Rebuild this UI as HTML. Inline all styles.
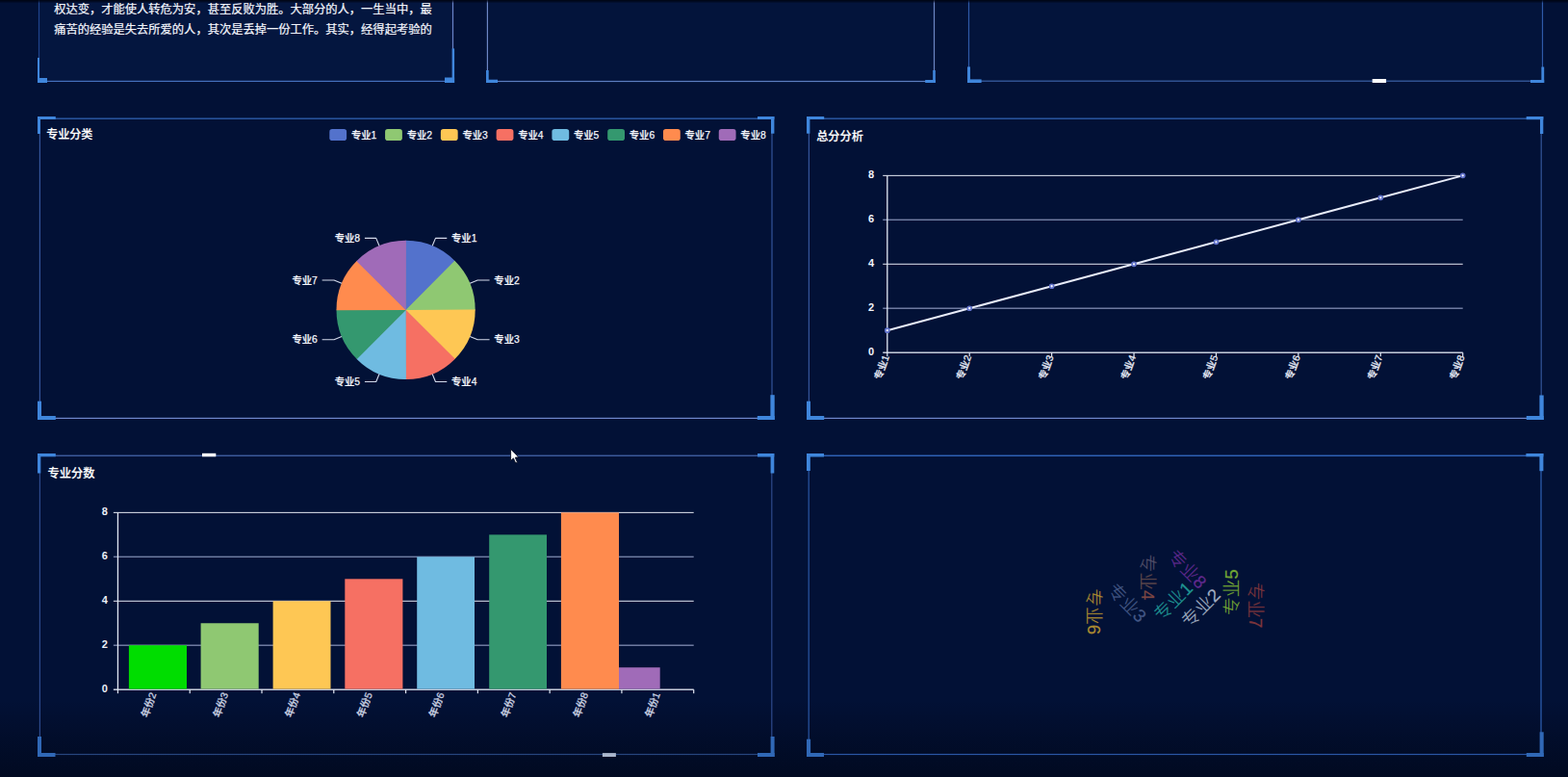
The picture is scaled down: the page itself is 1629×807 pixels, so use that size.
<!DOCTYPE html>
<html lang="zh-CN">
<head>
<meta charset="utf-8">
<title>数据大屏</title>
<style>
html,body{margin:0;padding:0;}
body{width:1629px;height:807px;overflow:hidden;position:relative;background:#021136;font-family:"Liberation Sans",sans-serif;}
#stage{position:absolute;left:0;top:0;width:1629px;height:807px;overflow:hidden;
 background:linear-gradient(to bottom,rgba(0,3,14,0) 0,rgba(0,3,14,0) 726px,rgba(0,3,14,.3) 770px,rgba(0,3,14,.52) 807px),#021136;}
#stage svg{position:absolute;left:0;top:0;display:block;}
#stage svg text{font-family:"Liberation Sans","Noto Sans CJK SC",sans-serif;}
#txt span{position:absolute;white-space:nowrap;color:transparent;line-height:1.2;font-family:"Liberation Sans",sans-serif;}
</style>
</head>
<body>
<div id="stage">
<svg width="1629" height="807" viewBox="0 0 1629 807" role="img" aria-label="数据大屏">
<rect x="40.5" y="-5" width="430" height="89.4" fill="#04163f"/><rect x="40" y="83.8" width="431" height="1.2" fill="#4570bc"/><rect x="39.9" y="-5" width="1.2" height="89.4" fill="#1f438c"/><rect x="469.9" y="-5" width="1.2" height="89.4" fill="#6a84c8"/><rect x="39" y="60" width="2" height="26" fill="#3f86dc"/><rect x="39" y="81" width="10" height="5" fill="#3f86dc"/><rect x="469.7" y="50.4" width="2.4" height="35.6" fill="#3f86dc"/><rect x="462" y="80.5" width="10.1" height="5.5" fill="#3f86dc"/><rect x="506.4" y="-5" width="464.1" height="89.5" fill="#03143b"/><rect x="505.9" y="83.9" width="465.1" height="1.2" fill="#5c7dc0"/><rect x="505.8" y="-5" width="1.2" height="89.5" fill="#6c86c4"/><rect x="969.9" y="-5" width="1.2" height="89.5" fill="#6c86c4"/><rect x="505" y="73" width="2.7" height="13" fill="#3f86dc"/><rect x="505" y="82.7" width="12" height="3.3" fill="#3f86dc"/><rect x="969.2" y="73" width="2.6" height="13" fill="#3f86dc"/><rect x="961.2" y="83" width="10.6" height="3" fill="#3f86dc"/><rect x="1006.5" y="-5" width="596" height="89.2" fill="#03143b"/><rect x="1006" y="83.6" width="597" height="1.2" fill="#3c62a8"/><rect x="1005.9" y="-5" width="1.2" height="89.2" fill="#2f5aa8"/><rect x="1601.9" y="-5" width="1.2" height="89.2" fill="#2f5aa8"/><rect x="1005" y="69.4" width="3" height="16.6" fill="#3f86dc"/><rect x="1005" y="82.4" width="14.6" height="3.6" fill="#3f86dc"/><rect x="1601.4" y="69.5" width="2.8" height="16.5" fill="#3f86dc"/><rect x="1590" y="83" width="14.2" height="3" fill="#3f86dc"/><rect x="1425.7" y="82" width="14.4" height="4" fill="#ffffff"/>
<text x="56.2" y="13.56" font-size="12.27" fill="#f2f4fb" stroke="#f2f4fb" stroke-width="0.22">权达变，才能使人转危为安，甚至反败为胜。大部分的人，一生当中，最</text>
<text x="56.2" y="34.76" font-size="12.27" fill="#f2f4fb" stroke="#f2f4fb" stroke-width="0.22">痛苦的经验是失去所爱的人，其次是丢掉一份工作。其实，经得起考验的</text>
<rect x="40.9" y="122.45" width="761.6" height="1.5" fill="#2b57a0"/><rect x="40.9" y="433.8" width="761.6" height="1.2" fill="#7088cc"/><rect x="40.8" y="123.2" width="1.2" height="311.2" fill="#34559a"/><rect x="801.4" y="123.2" width="1.2" height="311.2" fill="#34559a"/><rect x="39" y="121" width="18.8" height="3" fill="#3f86dc"/><rect x="39" y="121" width="3" height="18" fill="#3f86dc"/><rect x="787" y="121" width="17.4" height="3" fill="#3f86dc"/><rect x="801" y="121" width="3.4" height="17.7" fill="#3f86dc"/><rect x="39" y="416.7" width="4" height="19.3" fill="#3f86dc"/><rect x="39" y="432" width="18.8" height="4" fill="#3f86dc"/><rect x="800.4" y="410.2" width="4.3" height="25.8" fill="#3f86dc"/><rect x="786.8" y="432" width="17.9" height="4" fill="#3f86dc"/>
<text x="48.2" y="144.18" font-size="12.05" font-weight="500" fill="#ffffff" stroke="#ffffff" stroke-width="0.2">专业分类</text>
<rect x="342.3" y="134.1" width="17.8" height="12" rx="2.8" fill="#5372cc"/><text x="364.9" y="143.51" font-size="10.3" font-weight="500" fill="#f4f6fc" stroke="#f4f6fc" stroke-width="0.25">专业1</text><rect x="400.08" y="134.1" width="17.8" height="12" rx="2.8" fill="#8fc872"/><text x="422.68" y="143.51" font-size="10.3" font-weight="500" fill="#f4f6fc" stroke="#f4f6fc" stroke-width="0.25">专业2</text><rect x="457.86" y="134.1" width="17.8" height="12" rx="2.8" fill="#fec754"/><text x="480.46" y="143.51" font-size="10.3" font-weight="500" fill="#f4f6fc" stroke="#f4f6fc" stroke-width="0.25">专业3</text><rect x="515.64" y="134.1" width="17.8" height="12" rx="2.8" fill="#f67063"/><text x="538.24" y="143.51" font-size="10.3" font-weight="500" fill="#f4f6fc" stroke="#f4f6fc" stroke-width="0.25">专业4</text><rect x="573.42" y="134.1" width="17.8" height="12" rx="2.8" fill="#6fbbe1"/><text x="596.02" y="143.51" font-size="10.3" font-weight="500" fill="#f4f6fc" stroke="#f4f6fc" stroke-width="0.25">专业5</text><rect x="631.2" y="134.1" width="17.8" height="12" rx="2.8" fill="#34986f"/><text x="653.8" y="143.51" font-size="10.3" font-weight="500" fill="#f4f6fc" stroke="#f4f6fc" stroke-width="0.25">专业6</text><rect x="688.98" y="134.1" width="17.8" height="12" rx="2.8" fill="#ff8b4e"/><text x="711.58" y="143.51" font-size="10.3" font-weight="500" fill="#f4f6fc" stroke="#f4f6fc" stroke-width="0.25">专业7</text><rect x="746.76" y="134.1" width="17.8" height="12" rx="2.8" fill="#a06bb8"/><text x="769.36" y="143.51" font-size="10.3" font-weight="500" fill="#f4f6fc" stroke="#f4f6fc" stroke-width="0.25">专业8</text>
<circle cx="421.6" cy="321.9" r="71.5" fill="#9a8a80"/><path d="M421.6 321.9L421.29 249.8A72.1 72.1 0 0 1 472.8 271.14Z" fill="#5372cc"/><path d="M421.6 321.9L472.36 270.7A72.1 72.1 0 0 1 493.7 322.21Z" fill="#8fc872"/><path d="M421.6 321.9L493.7 321.59A72.1 72.1 0 0 1 472.36 373.1Z" fill="#fec754"/><path d="M421.6 321.9L472.8 372.66A72.1 72.1 0 0 1 421.29 394Z" fill="#f67063"/><path d="M421.6 321.9L421.91 394A72.1 72.1 0 0 1 370.4 372.66Z" fill="#6fbbe1"/><path d="M421.6 321.9L370.84 373.1A72.1 72.1 0 0 1 349.5 321.59Z" fill="#34986f"/><path d="M421.6 321.9L349.5 322.21A72.1 72.1 0 0 1 370.84 270.7Z" fill="#ff8b4e"/><path d="M421.6 321.9L370.4 271.14A72.1 72.1 0 0 1 421.91 249.8Z" fill="#a06bb8"/>
<path d="M449.19 255.29L452.48 247.34L464.28 247.34" fill="none" stroke="#d3d9ea" stroke-width="1.1" stroke-linejoin="round"/><text x="469.08" y="250.85" font-size="10.3" font-weight="500" fill="#f4f6fc" stroke="#f4f6fc" stroke-width="0.25">专业1</text>
<path d="M488.21 294.31L496.16 291.02L508.56 291.02" fill="none" stroke="#d3d9ea" stroke-width="1.1" stroke-linejoin="round"/><text x="513.36" y="294.53" font-size="10.3" font-weight="500" fill="#f4f6fc" stroke="#f4f6fc" stroke-width="0.25">专业2</text>
<path d="M488.21 349.49L496.16 352.78L508.56 352.78" fill="none" stroke="#d3d9ea" stroke-width="1.1" stroke-linejoin="round"/><text x="513.36" y="356.29" font-size="10.3" font-weight="500" fill="#f4f6fc" stroke="#f4f6fc" stroke-width="0.25">专业3</text>
<path d="M449.19 388.51L452.48 396.46L464.28 396.46" fill="none" stroke="#d3d9ea" stroke-width="1.1" stroke-linejoin="round"/><text x="469.08" y="399.97" font-size="10.3" font-weight="500" fill="#f4f6fc" stroke="#f4f6fc" stroke-width="0.25">专业4</text>
<path d="M394.01 388.51L390.72 396.46L378.92 396.46" fill="none" stroke="#d3d9ea" stroke-width="1.1" stroke-linejoin="round"/><text x="374.12" y="399.97" text-anchor="end" font-size="10.3" font-weight="500" fill="#f4f6fc" stroke="#f4f6fc" stroke-width="0.25">专业5</text>
<path d="M354.99 349.49L347.04 352.78L334.64 352.78" fill="none" stroke="#d3d9ea" stroke-width="1.1" stroke-linejoin="round"/><text x="329.84" y="356.29" text-anchor="end" font-size="10.3" font-weight="500" fill="#f4f6fc" stroke="#f4f6fc" stroke-width="0.25">专业6</text>
<path d="M354.99 294.31L347.04 291.02L334.64 291.02" fill="none" stroke="#d3d9ea" stroke-width="1.1" stroke-linejoin="round"/><text x="329.84" y="294.53" text-anchor="end" font-size="10.3" font-weight="500" fill="#f4f6fc" stroke="#f4f6fc" stroke-width="0.25">专业7</text>
<path d="M394.01 255.29L390.72 247.34L378.92 247.34" fill="none" stroke="#d3d9ea" stroke-width="1.1" stroke-linejoin="round"/><text x="374.12" y="250.85" text-anchor="end" font-size="10.3" font-weight="500" fill="#f4f6fc" stroke="#f4f6fc" stroke-width="0.25">专业8</text>
<rect x="839.9" y="122.45" width="761.8" height="1.5" fill="#2b57a0"/><rect x="839.9" y="433.8" width="761.8" height="1.2" fill="#7088cc"/><rect x="839.8" y="123.2" width="1.2" height="311.2" fill="#34559a"/><rect x="1600.6" y="123.2" width="1.2" height="311.2" fill="#34559a"/><rect x="838" y="121" width="18.2" height="3" fill="#3f86dc"/><rect x="838" y="121" width="3.4" height="17.7" fill="#3f86dc"/><rect x="1585.7" y="121" width="17.6" height="3.2" fill="#3f86dc"/><rect x="1600" y="121" width="3.3" height="18" fill="#3f86dc"/><rect x="838" y="416.7" width="4" height="19.3" fill="#3f86dc"/><rect x="838" y="432" width="18.2" height="4" fill="#3f86dc"/><rect x="1599.4" y="410.5" width="4.3" height="25.5" fill="#3f86dc"/><rect x="1585.8" y="432" width="17.9" height="4" fill="#3f86dc"/>
<text x="848.2" y="145.64" font-size="12.2" font-weight="500" fill="#ffffff" stroke="#ffffff" stroke-width="0.2">总分分析</text>
<rect x="917.2" y="319.51" width="602.5" height="1.45" fill="#727ea3"/><rect x="917.2" y="273.78" width="602.5" height="1" fill="#e6e9f4"/><rect x="917.2" y="227.59" width="602.5" height="1.45" fill="#727ea3"/><rect x="917.2" y="181.86" width="602.5" height="1" fill="#e6e9f4"/><rect x="917.2" y="365.55" width="602.5" height="1.3" fill="#e4e8f4"/><rect x="921.15" y="182.36" width="1.3" height="184.44" fill="#e4e8f4"/><rect x="921.2" y="366.2" width="1.2" height="4" fill="#e4e8f4"/><rect x="1006.61" y="366.2" width="1.2" height="4" fill="#e4e8f4"/><rect x="1092.03" y="366.2" width="1.2" height="4" fill="#e4e8f4"/><rect x="1177.44" y="366.2" width="1.2" height="4" fill="#e4e8f4"/><rect x="1262.86" y="366.2" width="1.2" height="4" fill="#e4e8f4"/><rect x="1348.27" y="366.2" width="1.2" height="4" fill="#e4e8f4"/><rect x="1433.69" y="366.2" width="1.2" height="4" fill="#e4e8f4"/><rect x="1519.1" y="366.2" width="1.2" height="4" fill="#e4e8f4"/>
<text x="908.1" y="368.69" text-anchor="end" font-size="11" font-weight="bold" fill="#f2f4fb">0</text><text x="908.1" y="322.73" text-anchor="end" font-size="11" font-weight="bold" fill="#f2f4fb">2</text><text x="908.1" y="276.77" text-anchor="end" font-size="11" font-weight="bold" fill="#f2f4fb">4</text><text x="908.1" y="230.81" text-anchor="end" font-size="11" font-weight="bold" fill="#f2f4fb">6</text><text x="908.1" y="184.85" text-anchor="end" font-size="11" font-weight="bold" fill="#f2f4fb">8</text>
<polyline points="921.8,343.22 1007.21,320.24 1092.63,297.26 1178.04,274.28 1263.46,251.3 1348.87,228.32 1434.29,205.34 1519.7,182.36" fill="none" stroke="#e8ecf9" stroke-width="2" stroke-linejoin="round"/><circle cx="921.8" cy="343.22" r="2" fill="#f6f7ff" stroke="#6172ca" stroke-width="1.7"/><circle cx="1007.21" cy="320.24" r="2" fill="#f6f7ff" stroke="#6172ca" stroke-width="1.7"/><circle cx="1092.63" cy="297.26" r="2" fill="#f6f7ff" stroke="#6172ca" stroke-width="1.7"/><circle cx="1178.04" cy="274.28" r="2" fill="#f6f7ff" stroke="#6172ca" stroke-width="1.7"/><circle cx="1263.46" cy="251.3" r="2" fill="#f6f7ff" stroke="#6172ca" stroke-width="1.7"/><circle cx="1348.87" cy="228.32" r="2" fill="#f6f7ff" stroke="#6172ca" stroke-width="1.7"/><circle cx="1434.29" cy="205.34" r="2" fill="#f6f7ff" stroke="#6172ca" stroke-width="1.7"/><circle cx="1519.7" cy="182.36" r="2" fill="#f6f7ff" stroke="#6172ca" stroke-width="1.7"/>
<text transform="translate(920.2 369.2) rotate(-70)" x="0" y="3.88" text-anchor="end" font-size="10.2" font-weight="500" fill="#e4e8f4" stroke="#e4e8f4" stroke-width="0.3">专业1</text>
<text transform="translate(1005.61 369.2) rotate(-70)" x="0" y="3.88" text-anchor="end" font-size="10.2" font-weight="500" fill="#e4e8f4" stroke="#e4e8f4" stroke-width="0.3">专业2</text>
<text transform="translate(1091.03 369.2) rotate(-70)" x="0" y="3.88" text-anchor="end" font-size="10.2" font-weight="500" fill="#e4e8f4" stroke="#e4e8f4" stroke-width="0.3">专业3</text>
<text transform="translate(1176.44 369.2) rotate(-70)" x="0" y="3.88" text-anchor="end" font-size="10.2" font-weight="500" fill="#e4e8f4" stroke="#e4e8f4" stroke-width="0.3">专业4</text>
<text transform="translate(1261.86 369.2) rotate(-70)" x="0" y="3.88" text-anchor="end" font-size="10.2" font-weight="500" fill="#e4e8f4" stroke="#e4e8f4" stroke-width="0.3">专业5</text>
<text transform="translate(1347.27 369.2) rotate(-70)" x="0" y="3.88" text-anchor="end" font-size="10.2" font-weight="500" fill="#e4e8f4" stroke="#e4e8f4" stroke-width="0.3">专业6</text>
<text transform="translate(1432.69 369.2) rotate(-70)" x="0" y="3.88" text-anchor="end" font-size="10.2" font-weight="500" fill="#e4e8f4" stroke="#e4e8f4" stroke-width="0.3">专业7</text>
<text transform="translate(1518.1 369.2) rotate(-70)" x="0" y="3.88" text-anchor="end" font-size="10.2" font-weight="500" fill="#e4e8f4" stroke="#e4e8f4" stroke-width="0.3">专业8</text>
<rect x="40.9" y="472.55" width="761.4" height="1.5" fill="#3c5a9c"/><rect x="40.9" y="782.9" width="761.4" height="1.2" fill="#27467e"/><rect x="40.8" y="473.3" width="1.2" height="310.2" fill="#2d4a8c"/><rect x="801.2" y="473.3" width="1.2" height="310.2" fill="#2d4a8c"/><rect x="39" y="471" width="18.8" height="3.3" fill="#3f86dc"/><rect x="39" y="471" width="3.3" height="20.5" fill="#3f86dc"/><rect x="787" y="471" width="17.3" height="3.5" fill="#3f86dc"/><rect x="800.6" y="471" width="3.7" height="20.5" fill="#3f86dc"/><rect x="39" y="765" width="4" height="21" fill="#3068b6"/><rect x="39" y="782" width="18.5" height="4" fill="#3068b6"/><rect x="800.6" y="765" width="4" height="21" fill="#3068b6"/><rect x="787" y="782" width="17.6" height="4" fill="#3068b6"/><rect x="210" y="470.8" width="14.3" height="3.5" fill="#ffffff"/><rect x="625.9" y="782.1" width="14" height="3.9" fill="#aab6cc"/>
<text x="49.4" y="495.96" font-size="12.25" font-weight="500" fill="#ffffff" stroke="#ffffff" stroke-width="0.2">专业分数</text>
<rect x="117.85" y="669.51" width="602.85" height="1.45" fill="#727ea3"/><rect x="117.85" y="623.78" width="602.85" height="1" fill="#e6e9f4"/><rect x="117.85" y="577.6" width="602.85" height="1.45" fill="#727ea3"/><rect x="117.85" y="531.86" width="602.85" height="1" fill="#e6e9f4"/><rect x="117.85" y="715.55" width="602.85" height="1.3" fill="#e4e8f4"/><rect x="121.8" y="532.36" width="1.3" height="184.44" fill="#e4e8f4"/><rect x="121.85" y="716.2" width="1.2" height="4" fill="#e4e8f4"/><rect x="196.63" y="716.2" width="1.2" height="4" fill="#e4e8f4"/><rect x="271.41" y="716.2" width="1.2" height="4" fill="#e4e8f4"/><rect x="346.19" y="716.2" width="1.2" height="4" fill="#e4e8f4"/><rect x="420.97" y="716.2" width="1.2" height="4" fill="#e4e8f4"/><rect x="495.76" y="716.2" width="1.2" height="4" fill="#e4e8f4"/><rect x="570.54" y="716.2" width="1.2" height="4" fill="#e4e8f4"/><rect x="645.32" y="716.2" width="1.2" height="4" fill="#e4e8f4"/><rect x="720.1" y="716.2" width="1.2" height="4" fill="#e4e8f4"/>
<text x="111.85" y="718.69" text-anchor="end" font-size="11" font-weight="bold" fill="#eceff7">0</text><text x="111.85" y="672.73" text-anchor="end" font-size="11" font-weight="bold" fill="#eceff7">2</text><text x="111.85" y="626.77" text-anchor="end" font-size="11" font-weight="bold" fill="#eceff7">4</text><text x="111.85" y="580.81" text-anchor="end" font-size="11" font-weight="bold" fill="#eceff7">6</text><text x="111.85" y="534.85" text-anchor="end" font-size="11" font-weight="bold" fill="#eceff7">8</text>
<rect x="133.9" y="670.24" width="60.1" height="45.36" fill="#00dd00"/><rect x="208.6" y="647.26" width="60.1" height="68.34" fill="#8fc872"/><rect x="283.6" y="624.28" width="59.9" height="91.32" fill="#fec754"/><rect x="358.3" y="601.3" width="60.1" height="114.3" fill="#f67063"/><rect x="433.2" y="578.32" width="59.8" height="137.28" fill="#6fbbe1"/><rect x="508.2" y="555.34" width="59.8" height="160.26" fill="#34986f"/><rect x="582.9" y="532.36" width="60.1" height="183.24" fill="#ff8b4e"/><rect x="643" y="693.22" width="42.7" height="22.38" fill="#a06bb8"/>
<text transform="translate(158.84 719.5) rotate(-70)" x="0" y="3.95" text-anchor="end" font-size="10.4" font-weight="500" fill="#c8cfe0" stroke="#c8cfe0" stroke-width="0.3">年份2</text>
<text transform="translate(233.62 719.5) rotate(-70)" x="0" y="3.95" text-anchor="end" font-size="10.4" font-weight="500" fill="#c8cfe0" stroke="#c8cfe0" stroke-width="0.3">年份3</text>
<text transform="translate(308.4 719.5) rotate(-70)" x="0" y="3.95" text-anchor="end" font-size="10.4" font-weight="500" fill="#c8cfe0" stroke="#c8cfe0" stroke-width="0.3">年份4</text>
<text transform="translate(383.18 719.5) rotate(-70)" x="0" y="3.95" text-anchor="end" font-size="10.4" font-weight="500" fill="#c8cfe0" stroke="#c8cfe0" stroke-width="0.3">年份5</text>
<text transform="translate(457.97 719.5) rotate(-70)" x="0" y="3.95" text-anchor="end" font-size="10.4" font-weight="500" fill="#c8cfe0" stroke="#c8cfe0" stroke-width="0.3">年份6</text>
<text transform="translate(532.75 719.5) rotate(-70)" x="0" y="3.95" text-anchor="end" font-size="10.4" font-weight="500" fill="#c8cfe0" stroke="#c8cfe0" stroke-width="0.3">年份7</text>
<text transform="translate(607.53 719.5) rotate(-70)" x="0" y="3.95" text-anchor="end" font-size="10.4" font-weight="500" fill="#c8cfe0" stroke="#c8cfe0" stroke-width="0.3">年份8</text>
<text transform="translate(682.31 719.5) rotate(-70)" x="0" y="3.95" text-anchor="end" font-size="10.4" font-weight="500" fill="#c8cfe0" stroke="#c8cfe0" stroke-width="0.3">年份1</text>
<rect x="839.7" y="472.55" width="761.8" height="1.5" fill="#2f62b6"/><rect x="839.7" y="782.9" width="761.8" height="1.2" fill="#2a56a4"/><rect x="839.6" y="473.3" width="1.2" height="310.2" fill="#2a56a4"/><rect x="1600.4" y="473.3" width="1.2" height="310.2" fill="#2f62b6"/><rect x="838" y="471" width="18" height="3.5" fill="#3f86dc"/><rect x="838" y="471" width="3.8" height="18" fill="#3f86dc"/><rect x="1585.4" y="471" width="18" height="3.3" fill="#3f86dc"/><rect x="1599.4" y="471" width="4" height="18.2" fill="#3f86dc"/><rect x="838" y="767.7" width="4.1" height="18.3" fill="#3068b6"/><rect x="838" y="782" width="18" height="4" fill="#3068b6"/><rect x="1599.6" y="760.3" width="4.1" height="25.7" fill="#3068b6"/><rect x="1585.8" y="782" width="17.9" height="4" fill="#3068b6"/>
<text transform="translate(1137.3 635.3) rotate(90)" x="0" y="7.07" text-anchor="middle" font-size="18.6" font-weight="300" fill="#c09a30" fill-opacity="0.9" stroke="#c09a30" stroke-width="0.8" stroke-opacity="0.25">专业6</text>
<text transform="translate(1171.2 625.8) rotate(45)" x="0" y="7.07" text-anchor="middle" font-size="18.6" font-weight="300" fill="#4c6090" fill-opacity="0.9" stroke="#4c6090" stroke-width="0.8" stroke-opacity="0.25">专业3</text>
<text transform="translate(1192.8 599.6) rotate(90)" x="0" y="7.07" text-anchor="middle" font-size="18.6" font-weight="300" fill="#5d5870" fill-opacity="0.9" stroke="#5d5870" stroke-width="0.8" stroke-opacity="0.25">专<tspan fill="#70524e" stroke="#70524e">业</tspan><tspan fill="#8a4c44" stroke="#8a4c44">4</tspan></text>
<text transform="translate(1233.7 590.8) rotate(45)" x="0" y="7.07" text-anchor="middle" font-size="18.6" font-weight="300" fill="#6a2c98" fill-opacity="0.9" stroke="#6a2c98" stroke-width="0.8" stroke-opacity="0.25">专业8</text>
<text transform="translate(1218.5 624) rotate(-45)" x="0" y="7.07" text-anchor="middle" font-size="18.6" font-weight="300" fill="#22a39e" fill-opacity="0.9" stroke="#22a39e" stroke-width="0.8" stroke-opacity="0.25">专业1</text>
<text transform="translate(1247.3 630.9) rotate(-45)" x="0" y="7.07" text-anchor="middle" font-size="18.6" font-weight="300" fill="#b4c0d4" fill-opacity="0.9" stroke="#b4c0d4" stroke-width="0.8" stroke-opacity="0.25">专业2</text>
<text transform="translate(1279 615) rotate(-90)" x="0" y="7.07" text-anchor="middle" font-size="18.6" font-weight="300" fill="#80b834" fill-opacity="0.9" stroke="#80b834" stroke-width="0.8" stroke-opacity="0.25">专业5</text>
<text transform="translate(1305 628.7) rotate(90)" x="0" y="7.07" text-anchor="middle" font-size="18.6" font-weight="300" fill="#8c3a3c" fill-opacity="0.9" stroke="#8c3a3c" stroke-width="0.8" stroke-opacity="0.25">专业7</text>
<path transform="translate(530.6 466.4)" d="M0 0L0 12.1L2.8 9.5L5.1 14.6L6.9 13.8L4.7 8.8L8.3 8.4Z" fill="#fff" stroke="#0a0f22" stroke-width="0.9" stroke-linejoin="round"/><rect x="0" y="0" width="1629" height="1.6" fill="rgba(0,3,14,.75)"/><rect x="0" y="1.6" width="1629" height="1.1" fill="rgba(0,3,14,.35)"/>
</svg>
<div id="txt"><span style="left:56.2px;top:1.54px;font-size:12.27px;">权达变，才能使人转危为安，甚至反败为胜。大部分的人，一生当中，最</span><span style="left:56.2px;top:22.74px;font-size:12.27px;">痛苦的经验是失去所爱的人，其次是丢掉一份工作。其实，经得起考验的</span><span style="left:48.2px;top:132.37px;font-size:12.05px;">专业分类</span><span style="left:364.9px;top:133.42px;font-size:10.3px;">专业1</span><span style="left:422.68px;top:133.42px;font-size:10.3px;">专业2</span><span style="left:480.46px;top:133.42px;font-size:10.3px;">专业3</span><span style="left:538.24px;top:133.42px;font-size:10.3px;">专业4</span><span style="left:596.02px;top:133.42px;font-size:10.3px;">专业5</span><span style="left:653.8px;top:133.42px;font-size:10.3px;">专业6</span><span style="left:711.58px;top:133.42px;font-size:10.3px;">专业7</span><span style="left:769.36px;top:133.42px;font-size:10.3px;">专业8</span><span style="left:469.08px;top:240.76px;font-size:10.3px;">专业1</span><span style="left:513.36px;top:284.44px;font-size:10.3px;">专业2</span><span style="left:513.36px;top:346.2px;font-size:10.3px;">专业3</span><span style="left:469.08px;top:389.88px;font-size:10.3px;">专业4</span><span style="left:347.65px;top:389.88px;font-size:10.3px;">专业5</span><span style="left:303.37px;top:346.2px;font-size:10.3px;">专业6</span><span style="left:303.37px;top:284.44px;font-size:10.3px;">专业7</span><span style="left:347.65px;top:240.76px;font-size:10.3px;">专业8</span><span style="left:848.2px;top:133.68px;font-size:12.2px;">总分分析</span><span style="left:901.98px;top:358.15px;font-size:11px;">0</span><span style="left:901.98px;top:312.19px;font-size:11px;">2</span><span style="left:901.98px;top:266.23px;font-size:11px;">4</span><span style="left:901.98px;top:220.27px;font-size:11px;">6</span><span style="left:901.98px;top:174.31px;font-size:11px;">8</span><span style="left:920.2px;top:363.08px;font-size:10.2px;transform:translateX(-100%) rotate(-70deg);transform-origin:100% 50%;">专业1</span><span style="left:1005.61px;top:363.08px;font-size:10.2px;transform:translateX(-100%) rotate(-70deg);transform-origin:100% 50%;">专业2</span><span style="left:1091.03px;top:363.08px;font-size:10.2px;transform:translateX(-100%) rotate(-70deg);transform-origin:100% 50%;">专业3</span><span style="left:1176.44px;top:363.08px;font-size:10.2px;transform:translateX(-100%) rotate(-70deg);transform-origin:100% 50%;">专业4</span><span style="left:1261.86px;top:363.08px;font-size:10.2px;transform:translateX(-100%) rotate(-70deg);transform-origin:100% 50%;">专业5</span><span style="left:1347.27px;top:363.08px;font-size:10.2px;transform:translateX(-100%) rotate(-70deg);transform-origin:100% 50%;">专业6</span><span style="left:1432.69px;top:363.08px;font-size:10.2px;transform:translateX(-100%) rotate(-70deg);transform-origin:100% 50%;">专业7</span><span style="left:1518.1px;top:363.08px;font-size:10.2px;transform:translateX(-100%) rotate(-70deg);transform-origin:100% 50%;">专业8</span><span style="left:49.4px;top:483.95px;font-size:12.25px;">专业分数</span><span style="left:105.73px;top:708.15px;font-size:11px;">0</span><span style="left:105.73px;top:662.19px;font-size:11px;">2</span><span style="left:105.73px;top:616.23px;font-size:11px;">4</span><span style="left:105.73px;top:570.27px;font-size:11px;">6</span><span style="left:105.73px;top:524.31px;font-size:11px;">8</span><span style="left:158.84px;top:713.26px;font-size:10.4px;transform:translateX(-100%) rotate(-70deg);transform-origin:100% 50%;">年份2</span><span style="left:233.62px;top:713.26px;font-size:10.4px;transform:translateX(-100%) rotate(-70deg);transform-origin:100% 50%;">年份3</span><span style="left:308.4px;top:713.26px;font-size:10.4px;transform:translateX(-100%) rotate(-70deg);transform-origin:100% 50%;">年份4</span><span style="left:383.18px;top:713.26px;font-size:10.4px;transform:translateX(-100%) rotate(-70deg);transform-origin:100% 50%;">年份5</span><span style="left:457.97px;top:713.26px;font-size:10.4px;transform:translateX(-100%) rotate(-70deg);transform-origin:100% 50%;">年份6</span><span style="left:532.75px;top:713.26px;font-size:10.4px;transform:translateX(-100%) rotate(-70deg);transform-origin:100% 50%;">年份7</span><span style="left:607.53px;top:713.26px;font-size:10.4px;transform:translateX(-100%) rotate(-70deg);transform-origin:100% 50%;">年份8</span><span style="left:682.31px;top:713.26px;font-size:10.4px;transform:translateX(-100%) rotate(-70deg);transform-origin:100% 50%;">年份1</span><span style="left:1137.3px;top:624.14px;font-size:18.6px;transform:translateX(-50%) rotate(90deg);transform-origin:50% 50%;">专业6</span><span style="left:1171.2px;top:614.64px;font-size:18.6px;transform:translateX(-50%) rotate(45deg);transform-origin:50% 50%;">专业3</span><span style="left:1192.8px;top:588.44px;font-size:18.6px;transform:translateX(-50%) rotate(90deg);transform-origin:50% 50%;">专业4</span><span style="left:1233.7px;top:579.64px;font-size:18.6px;transform:translateX(-50%) rotate(45deg);transform-origin:50% 50%;">专业8</span><span style="left:1218.5px;top:612.84px;font-size:18.6px;transform:translateX(-50%) rotate(-45deg);transform-origin:50% 50%;">专业1</span><span style="left:1247.3px;top:619.74px;font-size:18.6px;transform:translateX(-50%) rotate(-45deg);transform-origin:50% 50%;">专业2</span><span style="left:1279px;top:603.84px;font-size:18.6px;transform:translateX(-50%) rotate(-90deg);transform-origin:50% 50%;">专业5</span><span style="left:1305px;top:617.54px;font-size:18.6px;transform:translateX(-50%) rotate(90deg);transform-origin:50% 50%;">专业7</span></div>
</div>
</body>
</html>
